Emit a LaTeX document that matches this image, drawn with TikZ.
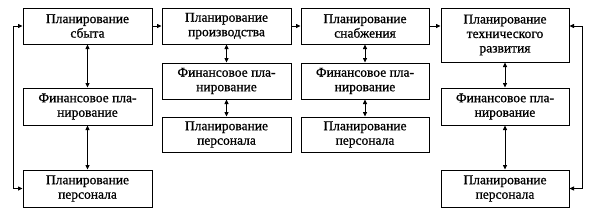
\documentclass[tikz,border=0pt]{standalone}
\usepackage{fontspec}
\setmainfont{Liberation Serif}[BoldFont={Liberation Serif}, BoldFeatures={FakeBold=0.8}]
\usetikzlibrary{arrows.meta}
\begin{document}
\begin{tikzpicture}[x=1pt,y=-1pt,
  box/.style={draw, line width=1pt, inner sep=0pt, align=center,
    font=\bfseries\fontsize{13.5}{14.5}\selectfont},
  con/.style={line width=0.8pt, -{Triangle[length=4.5pt,width=4pt]}},
  dcon/.style={line width=0.8pt, {Triangle[length=4.5pt,width=4pt]}-{Triangle[length=4.5pt,width=4pt]}}]
\useasboundingbox (0,0) rectangle (589,209);
% top row
\node[box, minimum width=129pt, minimum height=36pt] (b1) at (87.5,26) {Планирование\\сбыта};
\node[box, minimum width=129pt, minimum height=36pt] (b2) at (226.5,26) {Планирование\\производства};
\node[box, minimum width=128pt, minimum height=36pt] (b3) at (365,26) {Планирование\\снабжения};
\node[box, minimum width=128pt, minimum height=54pt] (b4) at (505,35) {Планирование\\технического\\развития};
% column 1
\node[box, minimum width=129pt, minimum height=37pt] (f1) at (87.5,106.5) {Финансовое пла-\\нирование};
\node[box, minimum width=129pt, minimum height=37pt] (p1) at (87.5,188.5) {Планирование\\персонала};
% column 2
\node[box, minimum width=129pt, minimum height=36pt] (f2) at (226.5,81) {Финансовое пла-\\нирование};
\node[box, minimum width=129pt, minimum height=35pt] (p2) at (226.5,134.5) {Планирование\\персонала};
% column 3
\node[box, minimum width=128pt, minimum height=36pt] (f3) at (365,81) {Финансовое пла-\\нирование};
\node[box, minimum width=128pt, minimum height=35pt] (p3) at (365,134.5) {Планирование\\персонала};
% column 4
\node[box, minimum width=128pt, minimum height=37pt] (f4) at (505,106.5) {Финансовое пла-\\нирование};
\node[box, minimum width=128pt, minimum height=37pt] (p4) at (505,188.5) {Планирование\\персонала};
% horizontal arrows
\draw[con] (b1.east) -- (b2.west);
\draw[con] (b2.east) -- (b3.west);
\draw[con] (b3.east) -- (b3.east -| b4.west);
% feedback loops
\coordinate (l1) at (13,26);
\coordinate (r1) at (582,26);
\draw[dcon] (b1.west) -- (l1) |- (p1.west);
\draw[dcon] (r1 -| b4.east) -- (r1) |- (p4.east);
% vertical arrows
\draw[dcon] (b1.south) -- (f1.north);
\draw[dcon] (f1.south) -- (p1.north);
\draw[dcon] (b2.south) -- (f2.north);
\draw[dcon] (f2.south) -- (p2.north);
\draw[dcon] (b3.south) -- (f3.north);
\draw[dcon] (f3.south) -- (p3.north);
\draw[dcon] (b4.south) -- (f4.north);
\draw[dcon] (f4.south) -- (p4.north);
\end{tikzpicture}
\end{document}
